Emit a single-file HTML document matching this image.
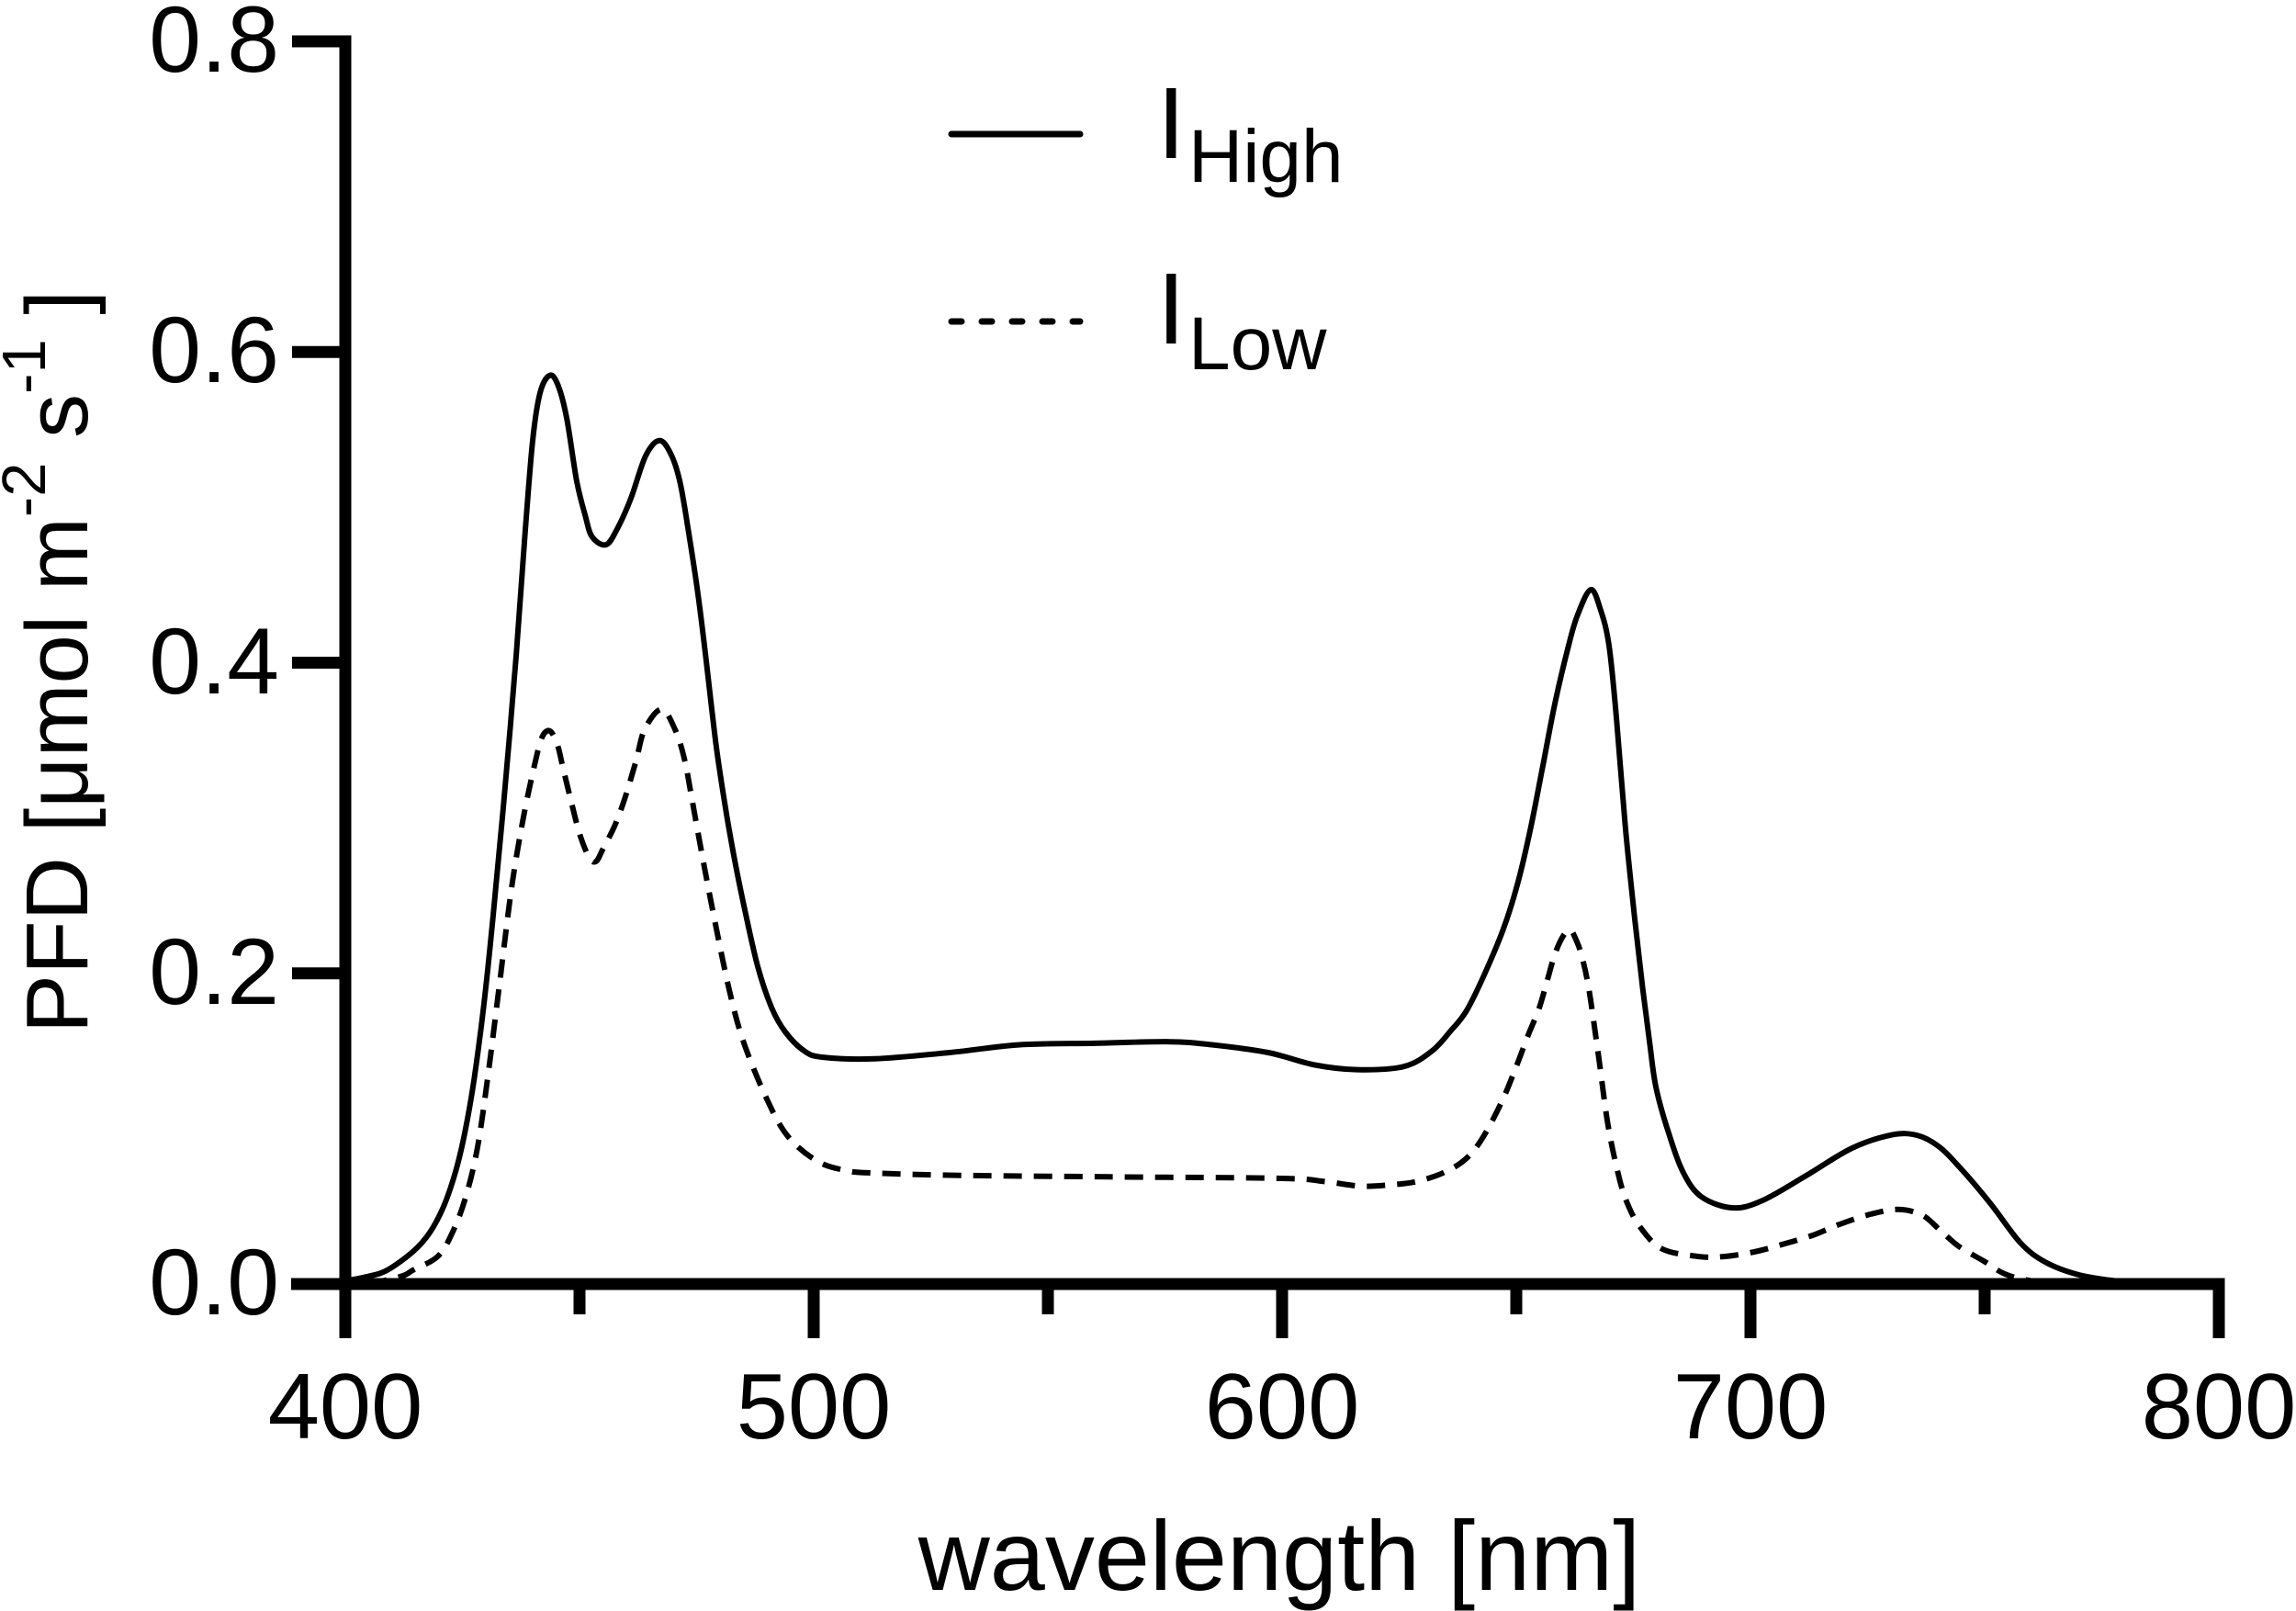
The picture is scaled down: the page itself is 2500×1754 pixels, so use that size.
<!DOCTYPE html>
<html>
<head>
<meta charset="utf-8">
<style>
  html, body { margin:0; padding:0; background:#fff; }
  svg { display:block; }
  text { font-family: "Liberation Sans", Arial, sans-serif; fill:#000; }
</style>
</head>
<body>
<svg id="chart" width="2500" height="1754" viewBox="0 0 2500 1754" xmlns="http://www.w3.org/2000/svg">
  <rect x="0" y="0" width="2500" height="1754" fill="#fff"/>

  <!-- axes -->
  <g stroke="#000" stroke-width="13" fill="none" stroke-linecap="butt">
    <line x1="376" y1="38.5" x2="376" y2="1457"/>
    <line x1="317" y1="1398" x2="2422.5" y2="1398"/>
    <!-- y ticks -->
    <line x1="318" y1="45" x2="376" y2="45"/>
    <line x1="318" y1="383.25" x2="376" y2="383.25"/>
    <line x1="318" y1="721.5" x2="376" y2="721.5"/>
    <line x1="318" y1="1059.75" x2="376" y2="1059.75"/>
    <!-- x major ticks -->
    <line x1="886" y1="1398" x2="886" y2="1457"/>
    <line x1="1396" y1="1398" x2="1396" y2="1457"/>
    <line x1="1906" y1="1398" x2="1906" y2="1457"/>
    <line x1="2416" y1="1398" x2="2416" y2="1457"/>
    <!-- x minor ticks -->
    <line x1="631" y1="1398" x2="631" y2="1431"/>
    <line x1="1141" y1="1398" x2="1141" y2="1431"/>
    <line x1="1651" y1="1398" x2="1651" y2="1431"/>
    <line x1="2161" y1="1398" x2="2161" y2="1431"/>
  </g>

  <!-- y tick labels -->
  <g font-size="102" text-anchor="end">
    <text x="304" y="78">0.8</text>
    <text x="304" y="416">0.6</text>
    <text x="304" y="755">0.4</text>
    <text x="304" y="1093">0.2</text>
    <text x="304" y="1431">0.0</text>
  </g>

  <!-- x tick labels -->
  <g font-size="101" text-anchor="middle">
    <text x="376" y="1566">400</text>
    <text x="886" y="1566">500</text>
    <text x="1396" y="1566">600</text>
    <text x="1906" y="1566">700</text>
    <text x="2416" y="1566">800</text>
  </g>

  <!-- axis titles -->
  <text x="1393" y="1731" font-size="108" text-anchor="middle">wavelength [nm]</text>
  <text transform="translate(95,720.5) rotate(-90)" font-size="96" text-anchor="middle">PFD [μmol m<tspan font-size="67" dy="-46">-2</tspan><tspan dy="46"> s</tspan><tspan font-size="67" dy="-46">-1</tspan><tspan dy="46"> ]</tspan></text>

  <!-- legend -->
  <line x1="1036" y1="146" x2="1176" y2="146" stroke="#000" stroke-width="7" stroke-linecap="round"/>
  <line x1="1036" y1="350" x2="1176" y2="350" stroke="#000" stroke-width="7" stroke-linecap="round" stroke-dasharray="11 22"/>
  <text x="1260" y="172" font-size="110">I</text>
  <text x="1294" y="198" font-size="82">High</text>
  <text x="1260" y="374" font-size="110">I</text>
  <text x="1294" y="402" font-size="82">Low</text>

  <!-- series -->
  <path id="high" d="" fill="none" stroke="#000" stroke-width="6" stroke-linejoin="round"/>
  <path id="low" d="" fill="none" stroke="#000" stroke-width="6" stroke-dasharray="20 13"/>
</svg>

<script>
(function(){
  function X(nm){ return 376 + (nm-400)*5.1; }
  function Y(v){ return 1398 - v*1691.25; }
  var high = [
    [400,0.002],[405,0.005],[409,0.009],[414.5,0.021],[418,0.033],[421,0.050],[423.5,0.072],[425.5,0.097],[427.5,0.132],[429.5,0.178],[431.5,0.235],[433.7,0.306],[436.5,0.405],[438.4,0.484],[440,0.543],[441.6,0.574],[443.7,0.585],[445.5,0.578],[447.3,0.557],[449.4,0.517],[451.2,0.495],[452.7,0.481],[455.7,0.476],[458.2,0.487],[461,0.506],[464.1,0.533],[467,0.543],[469.4,0.535],[471.4,0.517],[473.3,0.484],[475.3,0.444],[476.9,0.405],[479.2,0.346],[481.2,0.306],[483,0.275],[485,0.245],[488,0.205],[491,0.178],[494,0.162],[498,0.150],[502,0.146],[513,0.145],[529,0.149],[544,0.154],[560,0.155],[576,0.156],[585,0.154],[597,0.149],[607,0.141],[616,0.138],[626,0.140],[632,0.150],[636,0.163],[639.4,0.176],[643.3,0.2],[647.3,0.229],[650.4,0.259],[653.1,0.294],[655.7,0.334],[658.2,0.373],[661,0.409],[663,0.430],[665.9,0.447],[668,0.434],[669.8,0.411],[671.4,0.364],[673.3,0.294],[675.3,0.235],[677,0.19],[678.5,0.155],[679.8,0.127],[682.5,0.0975],[685.7,0.0715],[689.6,0.056],[696.3,0.049],[702.7,0.054],[712,0.070],[721.7,0.0875],[730.2,0.096],[735.5,0.0958],[740,0.089],[744.5,0.0757],[751.2,0.052],[757.6,0.0266],[763,0.014],[770,0.006],[778,0.002],[785,0.0005]
  ];
  var low = [
    [405,0.0],[412,0.005],[414.5,0.009],[419.8,0.018],[423,0.034],[425.7,0.056],[428.2,0.0875],[430.5,0.135],[433,0.195],[435.5,0.255],[438,0.300],[440.4,0.334],[442,0.352],[443.7,0.356],[445.3,0.347],[446.5,0.332],[448.2,0.311],[450,0.29],[452,0.275],[453.5,0.272],[455,0.28],[457.5,0.295],[459.6,0.312],[462,0.336],[463.9,0.357],[467.5,0.370],[470.4,0.357],[472.4,0.338],[473.9,0.314],[476,0.279],[479,0.232],[482,0.189],[485,0.156],[490,0.119],[494.5,0.095],[500.8,0.079],[507,0.073],[512.5,0.0715],[530,0.070],[563,0.069],[600,0.068],[609,0.066],[617,0.063],[623.7,0.064],[628.8,0.066],[634.7,0.072],[639.4,0.081],[643,0.095],[647,0.118],[650,0.140],[652.5,0.160],[654.7,0.176],[656.3,0.192],[658.2,0.212],[660,0.224],[661.5,0.228],[662.7,0.222],[663.9,0.212],[665.5,0.19],[667.5,0.148],[669.5,0.104],[671.7,0.0716],[673.7,0.052],[676.6,0.036],[681.2,0.0225],[689,0.0177],[694.3,0.0177],[700.8,0.0207],[706.7,0.0254],[713.2,0.0313],[719,0.0384],[725.7,0.045],[731.6,0.048],[736.7,0.0443],[740.6,0.0343],[744.5,0.0242],[749.8,0.0148],[754.3,0.0065],[760,0.002],[768,0.0]
  ];
  function build(d){
    var p = d.map(function(a){ return [X(a[0]), Y(a[1])]; });
    var s = 'M' + p[0][0].toFixed(1) + ' ' + p[0][1].toFixed(1);
    for (var i=0;i<p.length-1;i++){
      var p0 = p[i-1]||p[i], p1=p[i], p2=p[i+1], p3=p[i+2]||p[i+1];
      var c1x = p1[0] + (p2[0]-p0[0])/6, c1y = p1[1] + (p2[1]-p0[1])/6;
      var c2x = p2[0] - (p3[0]-p1[0])/6, c2y = p2[1] - (p3[1]-p1[1])/6;
      s += 'C' + c1x.toFixed(1)+' '+c1y.toFixed(1)+' '+c2x.toFixed(1)+' '+c2y.toFixed(1)+' '+p2[0].toFixed(1)+' '+p2[1].toFixed(1);
    }
    return s;
  }
  document.getElementById('high').setAttribute('d', build(high));
  document.getElementById('low').setAttribute('d', build(low));
})();
</script>
</body>
</html>
